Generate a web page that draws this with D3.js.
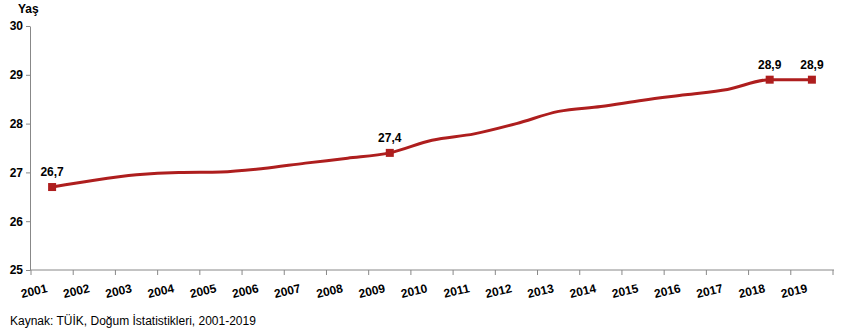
<!DOCTYPE html>
<html>
<head>
<meta charset="utf-8">
<script src="https://cdn.jsdelivr.net/npm/d3@7/dist/d3.min.js"></script>
<style>
  body { margin: 0; background: #fff; }
  svg { font-family: "Liberation Sans", Arial, sans-serif; }
</style>
</head>
<body>
<svg width="854" height="333"></svg>
<script>
var years = ["2001","2002","2003","2004","2005","2006","2007","2008","2009","2010",
             "2011","2012","2013","2014","2015","2016","2017","2018","2019"];
var values = [26.7, 26.84, 26.95, 27.0, 27.01, 27.08, 27.19, 27.29, 27.4, 27.66,
              27.79, 28.0, 28.25, 28.35, 28.48, 28.59, 28.7, 28.9, 28.9];
var labelled = ["2001", "2009", "2018", "2019"];
var yTicks = [25, 26, 27, 28, 29, 30];

var svg = d3.select("svg"),
    red = "#AE1E1E";

var x = d3.scaleBand().domain(years).range([31, 833]);
var y = d3.scaleLinear().domain([25, 30]).range([270, 26]);

var data = years.map(function(d, i) { return {year: d, value: values[i]}; });

// y axis
var yAxis = svg.append("g")
    .attr("transform", "translate(30,0)")
    .call(d3.axisLeft(y).tickValues(yTicks).tickFormat(d3.format("d"))
      .tickSize(4).tickPadding(3).tickSizeOuter(0));
yAxis.select(".domain").attr("stroke", "#888");
yAxis.selectAll(".tick line").attr("stroke", "#888");
yAxis.selectAll("text").attr("font-size", 12).attr("font-weight", "bold").attr("fill", "#000")
    .attr("font-family", "Liberation Sans, Arial, sans-serif");

// x axis, ticks on the band edges
var xAxis = svg.append("g").attr("transform", "translate(0,270)");
xAxis.append("line")
    .attr("x1", 30).attr("x2", x.range()[1] + 1)
    .attr("stroke", "#888");
var edges = years.map(function(d) { return x(d); }).concat([x.range()[1]]);
xAxis.selectAll("line.tk").data(edges).enter().append("line")
    .attr("class", "tk")
    .attr("x1", function(d) { return d; }).attr("x2", function(d) { return d; })
    .attr("y1", 0).attr("y2", 5)
    .attr("stroke", "#888");
xAxis.selectAll("text").data(years).enter().append("text")
    .attr("transform", function(d) {
      return "translate(" + (x(d) + x.bandwidth() / 2 - 4) + ",22) rotate(-13)";
    })
    .attr("text-anchor", "end")
    .attr("font-size", 12).attr("font-weight", "bold")
    .text(function(d) { return d; });

// y title
svg.append("text").attr("x", 18).attr("y", 13)
    .attr("font-size", 12).attr("font-weight", "bold").text("Yaş");

// line
var line = d3.line()
    .x(function(d) { return x(d.year) + x.bandwidth() / 2; })
    .y(function(d) { return y(d.value); })
    .curve(d3.curveMonotoneX);

svg.append("path").datum(data)
    .attr("d", line)
    .attr("fill", "none")
    .attr("stroke", red)
    .attr("stroke-width", 3);

var marked = data.filter(function(d) { return labelled.indexOf(d.year) >= 0; });

svg.selectAll("rect.mk").data(marked).enter().append("rect")
    .attr("class", "mk")
    .attr("x", function(d) { return x(d.year) + x.bandwidth() / 2 - 4; })
    .attr("y", function(d) { return y(d.value) - 4; })
    .attr("width", 8).attr("height", 8)
    .attr("fill", red);

svg.selectAll("text.lbl").data(marked).enter().append("text")
    .attr("class", "lbl")
    .attr("x", function(d) { return x(d.year) + x.bandwidth() / 2; })
    .attr("y", function(d) { return y(d.value) - 11; })
    .attr("text-anchor", "middle")
    .attr("font-size", 12).attr("font-weight", "bold")
    .text(function(d) { return d3.format(".1f")(d.value).replace(".", ","); });

// source
svg.append("text").attr("x", 10).attr("y", 325)
    .attr("font-size", 12)
    .text("Kaynak: TÜİK, Doğum İstatistikleri, 2001-2019");
</script>
</body>
</html>
